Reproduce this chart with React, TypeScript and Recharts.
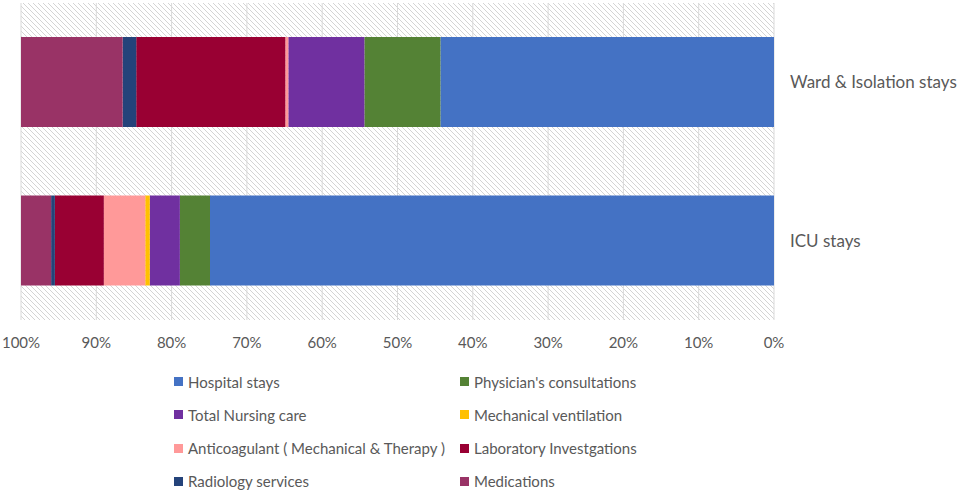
import React from "react";
import { BarChart, Bar, XAxis, YAxis, CartesianGrid } from "recharts";

const categories = ["Ward & Isolation stays", "ICU stays"];

// share of total cost, in percent, per stay type
const hospitalStays = [44.3, 74.9];
const physicianConsultations = [10.1, 4.0];
const nursingCare = [10.1, 4.0];
const mechanicalVentilation = [0, 0.6];
const anticoagulant = [0.4, 5.5];
const laboratory = [19.8, 6.5];
const radiology = [1.8, 0.5];
const medications = [13.5, 4.0];

const xTicks = [0, 10, 20, 30, 40, 50, 60, 70, 80, 90, 100];

const SERIES = [
  { key: "hospital", name: "Hospital stays", values: hospitalStays, color: "#4472C4" },
  { key: "physician", name: "Physician's consultations", values: physicianConsultations, color: "#548235" },
  { key: "nursing", name: "Total Nursing care", values: nursingCare, color: "#7030A0" },
  { key: "ventilation", name: "Mechanical ventilation", values: mechanicalVentilation, color: "#FFC000" },
  { key: "anticoagulant", name: "Anticoagulant ( Mechanical & Therapy )", values: anticoagulant, color: "#FF9999" },
  { key: "lab", name: "Laboratory Investgations", values: laboratory, color: "#990033" },
  { key: "radiology", name: "Radiology services", values: radiology, color: "#24437A" },
  { key: "medications", name: "Medications", values: medications, color: "#993366" },
];

const FONT = "Lato, 'Open Sans', sans-serif";
const TEXT = "#595959";

const data = categories.map((c, i) => {
  const row: Record<string, any> = { name: c };
  SERIES.forEach((s) => (row[s.key] = s.values[i]));
  return row;
});

function Legend() {
  return (
    <div
      style={{
        position: "absolute",
        left: 174,
        top: 372,
        display: "grid",
        gridTemplateColumns: "286px 300px",
        rowGap: 14.3,
        fontFamily: FONT,
        fontSize: 15,
        color: TEXT,
      }}
    >
      {SERIES.map((s) => (
        <div key={s.key} style={{ display: "flex", alignItems: "center", height: 19, whiteSpace: "nowrap" }}>
          <span
            style={{ display: "inline-block", width: 9, height: 9, background: s.color, marginRight: 5 }}
          />
          <span>{s.name}</span>
        </div>
      ))}
    </div>
  );
}

export default function App() {
  return (
    <div style={{ position: "absolute", left: 0, top: 0, width: 957, height: 494, background: "#fff" }}>
      <BarChart
        width={957}
        height={494}
        data={data}
        layout="vertical"
        barSize={90}
        margin={{ top: 3, right: 0, bottom: 144, left: 21 }}
      >
        <defs>
          <pattern id="hatch" patternUnits="userSpaceOnUse" width="5" height="5">
            <rect width="5" height="5" fill="#ffffff" />
            <path d="M0,0 L5,5 M-1,4 L1,6 M4,-1 L6,1" stroke="#d4d4d4" strokeWidth="1" />
          </pattern>
        </defs>
        <CartesianGrid horizontal={false} stroke="#d9d9d9" fill="url(#hatch)" fillOpacity={1} />
        <XAxis
          type="number"
          domain={[0, 100]}
          ticks={xTicks}
          reversed
          height={30}
          axisLine={false}
          tickLine={false}
          tickMargin={11}
          interval={0}
          tickFormatter={(v) => `${v}%`}
          tick={{ fill: TEXT, fontSize: 15, fontFamily: FONT }}
        />
        <YAxis
          type="category"
          dataKey="name"
          orientation="right"
          axisLine={false}
          tickLine={false}
          tickMargin={10}
          width={183}
          tick={{ fill: TEXT, fontSize: 17, fontFamily: FONT }}
        />
        {SERIES.map((s) => (
          <Bar
            key={s.key}
            dataKey={s.key}
            name={s.name}
            stackId="cost"
            fill={s.color}
            isAnimationActive={false}
          />
        ))}
      </BarChart>
      <Legend />
    </div>
  );
}
